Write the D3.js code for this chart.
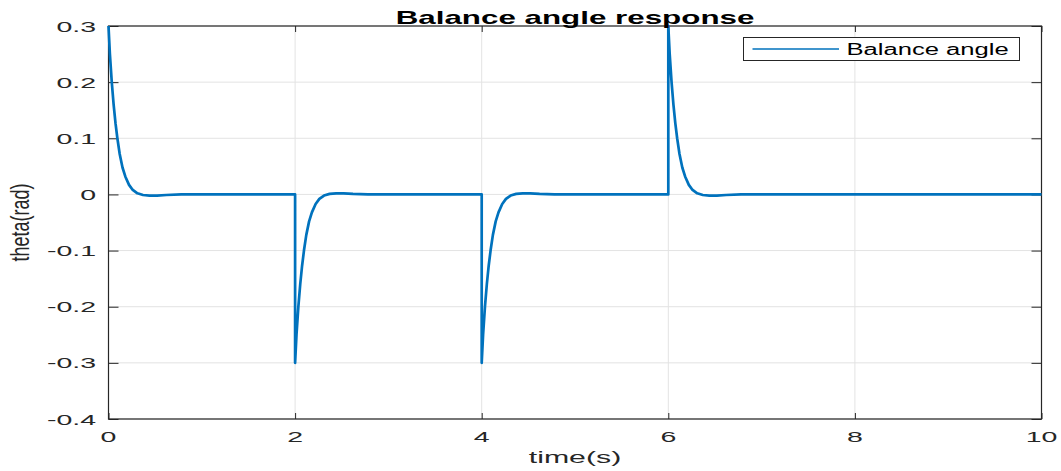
<!DOCTYPE html>
<html>
<head>
<meta charset="utf-8">
<script src="https://cdn.jsdelivr.net/npm/d3@7"></script>
<style>
  body { margin: 0; background: #fff; }
  svg { display: block; font-family: "Liberation Sans", Arial, sans-serif; }
</style>
</head>
<body>
<script>
// data
var time = [
  0, 0.015, 0.035, 0.055, 0.075, 0.095, 0.12, 0.15, 0.18, 0.22, 0.26, 0.31, 0.37, 0.44, 0.52, 0.62, 0.78,
  2, 2, 2.015, 2.035, 2.055, 2.075, 2.095, 2.12, 2.15, 2.18, 2.22, 2.26, 2.31, 2.37, 2.44, 2.52, 2.62, 2.78,
  4, 4, 4.015, 4.035, 4.055, 4.075, 4.095, 4.12, 4.15, 4.18, 4.22, 4.26, 4.31, 4.37, 4.44, 4.52, 4.62, 4.78,
  6, 6, 6.015, 6.035, 6.055, 6.075, 6.095, 6.12, 6.15, 6.18, 6.22, 6.26, 6.31, 6.37, 6.44, 6.52, 6.62, 6.78,
  10
];
var theta = [
  0.3, 0.25, 0.2, 0.16, 0.127, 0.1, 0.072, 0.048, 0.032, 0.017, 0.008, 0.002, -0.001, -0.002, -0.002, -0.001, 0,
  0, -0.3, -0.25, -0.2, -0.16, -0.127, -0.1, -0.072, -0.048, -0.032, -0.017, -0.008, -0.002, 0.001, 0.002, 0.002, 0.001, 0,
  0, -0.3, -0.25, -0.2, -0.16, -0.127, -0.1, -0.072, -0.048, -0.032, -0.017, -0.008, -0.002, 0.001, 0.002, 0.002, 0.001, 0,
  0, 0.3, 0.25, 0.2, 0.16, 0.127, 0.1, 0.072, 0.048, 0.032, 0.017, 0.008, 0.002, -0.001, -0.002, -0.002, -0.001, 0,
  0
];
var xTicks = [0, 2, 4, 6, 8, 10];
var xTickLabels = ["0", "2", "4", "6", "8", "10"];
var yTicks = [0.3, 0.2, 0.1, 0, -0.1, -0.2, -0.3, -0.4];
var yTickLabels = ["0.3", "0.2", "0.1", "0", "-0.1", "-0.2", "-0.3", "-0.4"];
var titleText = "Balance angle response";
var xLabel = "time(s)";
var yLabel = "theta(rad)";
var legendName = "Balance angle";

var width = 1061, height = 471;
var plotL = 108.5, plotR = 1041.5, plotT = 26, plotB = 419;
var lineColor = "#0072BD", axisColor = "#262626", gridColor = "#e3e3e3";

var svg = d3.select("body").append("svg")
  .attr("width", width)
  .attr("height", height);

var x = d3.scaleLinear().domain([0, 10]).range([plotL, plotR]);
var y = d3.scaleLinear().domain([-0.4, 0.3]).range([plotB, plotT]);

// grid
svg.append("g").selectAll("line").data(xTicks).enter().append("line")
  .attr("x1", function(d) { return x(d); }).attr("x2", function(d) { return x(d); })
  .attr("y1", plotT).attr("y2", plotB)
  .attr("stroke", gridColor).attr("stroke-width", 1);
svg.append("g").selectAll("line").data(yTicks).enter().append("line")
  .attr("x1", plotL).attr("x2", plotR)
  .attr("y1", function(d) { return y(d); }).attr("y2", function(d) { return y(d); })
  .attr("stroke", gridColor).attr("stroke-width", 1);

// axes with inward ticks on all four sides
function styleAxis(g) {
  g.select(".domain").remove();
  g.selectAll(".tick line").attr("stroke", axisColor).attr("stroke-width", 1);
  g.selectAll(".tick text").remove();
}
svg.append("g").attr("transform", "translate(0," + plotB + ")")
  .call(d3.axisBottom(x).tickValues(xTicks).tickSize(-6)).call(styleAxis);
svg.append("g").attr("transform", "translate(0," + plotT + ")")
  .call(d3.axisTop(x).tickValues(xTicks).tickSize(-6)).call(styleAxis);
svg.append("g").attr("transform", "translate(" + plotL + ",0)")
  .call(d3.axisLeft(y).tickValues(yTicks).tickSize(-10)).call(styleAxis);
svg.append("g").attr("transform", "translate(" + plotR + ",0)")
  .call(d3.axisRight(y).tickValues(yTicks).tickSize(-10)).call(styleAxis);

svg.append("rect")
  .attr("x", plotL).attr("y", plotT)
  .attr("width", plotR - plotL).attr("height", plotB - plotT)
  .attr("fill", "none").attr("stroke", axisColor).attr("stroke-width", 1.2);

// the response curve
var pts = time.map(function(t, i) { return [t, theta[i]]; });
var line = d3.line()
  .x(function(d) { return x(d[0]); })
  .y(function(d) { return y(d[1]); });
svg.append("path")
  .attr("d", line(pts))
  .attr("fill", "none")
  .attr("stroke", lineColor)
  .attr("stroke-width", 2.7)
  .attr("stroke-linejoin", "round");

// text helper: picture is stretched horizontally
function stretchedText(px, py, str, size, sx, anchor, weight, rot) {
  var t = "translate(" + px + "," + py + ") scale(" + sx + ",1)";
  if (rot) t += " rotate(" + rot + ")";
  return svg.append("text")
    .attr("transform", t)
    .attr("text-anchor", anchor)
    .attr("font-size", size)
    .attr("font-weight", weight || "normal")
    .attr("fill", axisColor)
    .text(str);
}

xTicks.forEach(function(d, i) {
  stretchedText(x(d), 441.5, xTickLabels[i], 15, 1.9, "middle");
});
yTicks.forEach(function(d, i) {
  stretchedText(96, y(d) + 5.5, yTickLabels[i], 15, 1.9, "end");
});

stretchedText((plotL + plotR) / 2, 24, titleText, 19, 1.65, "middle", "bold").attr("fill", "#000");
stretchedText((plotL + plotR) / 2, 463, xLabel, 17, 1.78, "middle");
stretchedText(29, (plotT + plotB) / 2, yLabel, 18, 1.4, "middle", "normal", -90);

// legend
var lg = svg.append("g");
lg.append("rect")
  .attr("x", 743.5).attr("y", 37.5).attr("width", 276).attr("height", 23)
  .attr("fill", "#fff").attr("stroke", axisColor).attr("stroke-width", 1);
lg.append("line")
  .attr("x1", 752.5).attr("x2", 839).attr("y1", 49).attr("y2", 49)
  .attr("stroke", lineColor).attr("stroke-width", 1.4);
stretchedText(846.5, 54.7, legendName, 16, 1.6, "start").attr("fill", "#000");
</script>
</body>
</html>
